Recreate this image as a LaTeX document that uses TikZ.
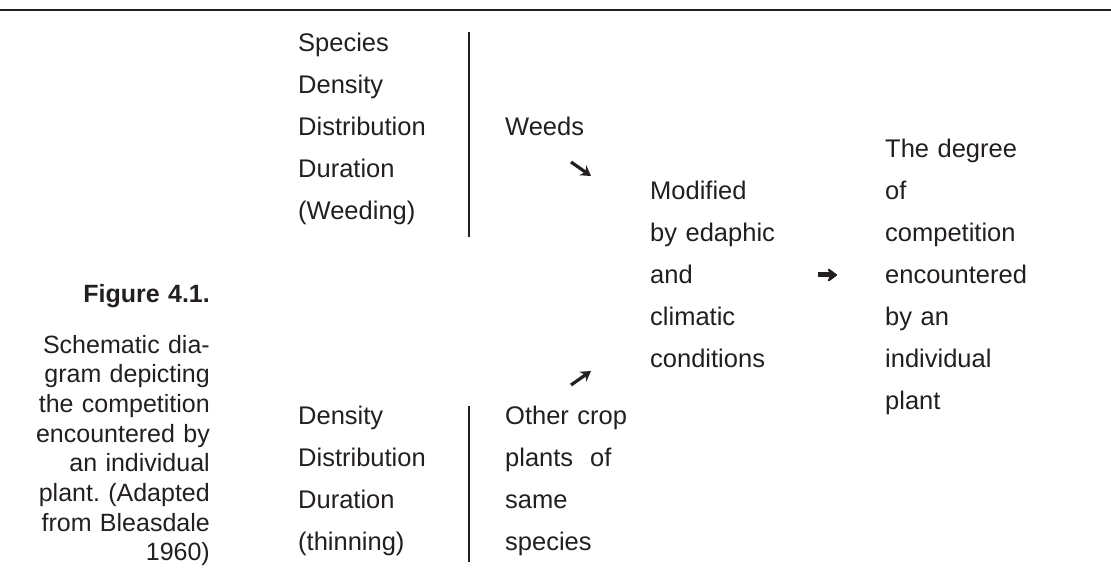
\documentclass[tikz,border=0pt]{standalone}
\usepackage{fontspec}
\setmainfont{Liberation Sans}
\usetikzlibrary{arrows.meta}
\definecolor{tinta}{RGB}{35,31,32}

\begin{document}
\frenchspacing
\begin{tikzpicture}[
  x=1pt, y=-1pt,
  font=\fontsize{25.5}{42}\selectfont, color=tinta,
  coluna/.style={inner sep=0pt, text width=200pt, align=left, anchor=base west},
  legenda/.style={inner sep=0pt, text width=205pt, align=right, anchor=base east,
                  font=\fontsize{25}{29.7}\selectfont},
  seta/.style={-{Stealth[length=10pt, width=12pt]}, line width=3.2pt},
  setagrossa/.style={-{Stealth[length=11pt, width=16pt, round]}, line width=5pt},
  barra/.style={line width=1.2pt}
]
  \useasboundingbox (0,0) rectangle (1111,577);

  % regua do topo
  \coordinate (ra) at (0,10);
  \coordinate (rb) at (1111,10);
  \draw[line width=1.5pt] (ra) -- (rb);

  % legenda
  \node[legenda, font=\fontsize{25}{29.7}\selectfont\bfseries] (fig) at (210,303) {Figure 4.1.};
  \node[legenda] (texto) at (210,353) {Schematic dia-\\gram depicting\\the competition\\encountered by\\an individual\\plant. (Adapted\\from Bleasdale\\1960)};

  % ervas daninhas
  \node[coluna] (fatores1) at (298,52) {Species\\Density\\Distribution\\Duration\\(Weeding)};
  \coordinate (b1a) at (469,32);
  \coordinate (b1b) at (469,237);
  \draw[barra] (b1a) -- (b1b);
  \node[coluna] (weeds) at (505,136) {Weeds};

  % outras plantas da cultura
  \node[coluna] (fatores2) at (298,424) {Density\\Distribution\\Duration\\(thinning)};
  \coordinate (b2a) at (469,406);
  \coordinate (b2b) at (469,562);
  \draw[barra] (b2a) -- (b2b);
  \node[coluna] (crop) at (505,424) {Other crop\\plants\ \ of\\same\\species};

  % meio e resultado
  \node[coluna] (modif) at (650,200) {Modified\\by edaphic\\and\\climatic\\conditions};
  \node[coluna] (grau) at (885,158) {The degree\\of\\competition\\encountered\\by an\\individual\\plant};

  \coordinate (s1a) at (571,162);
  \coordinate (s1b) at (591,176);
  \coordinate (s2a) at (571,385);
  \coordinate (s2b) at (591,371);
  \coordinate (s3a) at (818,275);
  \coordinate (s3b) at (837,275);
  \draw[seta] (s1a) -- (s1b);
  \draw[seta] (s2a) -- (s2b);
  \draw[setagrossa] (s3a) -- (s3b);
\end{tikzpicture}
\end{document}
